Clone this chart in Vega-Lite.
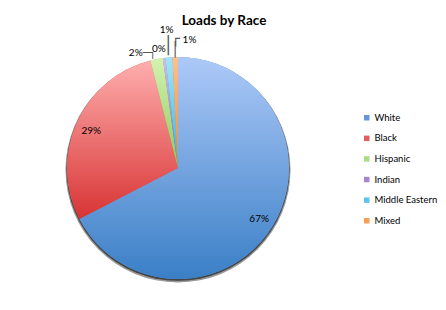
{
  "$schema": "https://vega.github.io/schema/vega-lite/v6.json",
  "width": 446,
  "height": 310,
  "padding": 0,
  "autosize": "none",
  "background": "white",
  "config": {"view": {"stroke": null}, "font": "Lato"},
  "title": {"text": "Loads by Race", "font": "Lato", "fontSize": 13.5, "fontWeight": "bold", "color": "#000", "anchor": "middle", "offset": 0, "dy": 27, "dx": 1},
  "data": {"values": [
    {"race": "White", "share": 0.674},
    {"race": "Black", "share": 0.286},
    {"race": "Hispanic", "share": 0.018},
    {"race": "Indian", "share": 0.004},
    {"race": "Middle Eastern", "share": 0.010},
    {"race": "Mixed", "share": 0.008}
  ]},
  "transform": [{"window": [{"op": "row_number", "as": "idx"}]}],
  "layer": [
    {
      "mark": {"type": "arc", "x": 178, "y": 170, "outerRadius": 112.5, "fill": "#000", "opacity": 0.08},
      "encoding": {}
    },
    {
      "mark": {"type": "arc", "x": 178, "y": 169.3, "outerRadius": 111.5, "fill": "#000", "opacity": 0.12},
      "encoding": {}
    },
    {
      "mark": {"type": "arc", "x": 178, "y": 168, "outerRadius": 111},
      "encoding": {
        "theta": {"field": "share", "type": "quantitative", "stack": true},
        "order": {"field": "idx", "type": "quantitative"},
        "color": {
          "field": "race", "type": "nominal",
          "sort": ["White", "Black", "Hispanic", "Indian", "Middle Eastern", "Mixed"],
          "scale": {
            "domain": ["White", "Black", "Hispanic", "Indian", "Middle Eastern", "Mixed"],
            "range": ["#6696d8", "#e45e5e", "#acdc80", "#a386cc", "#5cc5e9", "#f89e52"]
          },
          "legend": {
            "title": null, "orient": "none", "legendX": 362, "legendY": 113,
            "symbolType": "square", "symbolSize": 30, "symbolStrokeWidth": 0,
            "labelFont": "Lato", "labelFontSize": 9.5, "labelColor": "#000",
            "rowPadding": 9.6, "labelOffset": 3
          }
        }
      }
    },
    {
      "mark": {"type": "arc", "x": 178, "y": 168, "outerRadius": 111, "fill": {"gradient": "linear", "x1": 0, "y1": 0, "x2": 0, "y2": 1, "stops": [{"offset": 0, "color": "#adc9f8"}, {"offset": 1, "color": "#3a7fc6"}]}},
      "encoding": {
        "theta": {"field": "share", "type": "quantitative", "stack": true},
        "order": {"field": "idx", "type": "quantitative"},
        "detail": {"field": "race", "type": "nominal"},
        "opacity": {"condition": {"test": "datum.race === 'White'", "value": 1}, "value": 0}
      }
    },
    {
      "mark": {"type": "arc", "x": 178, "y": 168, "outerRadius": 111, "fill": {"gradient": "linear", "x1": 0, "y1": 0, "x2": 0, "y2": 1, "stops": [{"offset": 0, "color": "#ffaeae"}, {"offset": 1, "color": "#d83434"}]}},
      "encoding": {
        "theta": {"field": "share", "type": "quantitative", "stack": true},
        "order": {"field": "idx", "type": "quantitative"},
        "detail": {"field": "race", "type": "nominal"},
        "opacity": {"condition": {"test": "datum.race === 'Black'", "value": 1}, "value": 0}
      }
    },
    {
      "mark": {"type": "arc", "x": 178, "y": 168, "outerRadius": 111, "fill": {"gradient": "linear", "x1": 0, "y1": 0, "x2": 0, "y2": 1, "stops": [{"offset": 0, "color": "#d3f3b1"}, {"offset": 1, "color": "#8cc957"}]}},
      "encoding": {
        "theta": {"field": "share", "type": "quantitative", "stack": true},
        "order": {"field": "idx", "type": "quantitative"},
        "detail": {"field": "race", "type": "nominal"},
        "opacity": {"condition": {"test": "datum.race === 'Hispanic'", "value": 1}, "value": 0}
      }
    },
    {
      "mark": {"type": "arc", "x": 178, "y": 168, "outerRadius": 111, "fill": {"gradient": "linear", "x1": 0, "y1": 0, "x2": 0, "y2": 1, "stops": [{"offset": 0, "color": "#cfc0e8"}, {"offset": 1, "color": "#8a66b8"}]}},
      "encoding": {
        "theta": {"field": "share", "type": "quantitative", "stack": true},
        "order": {"field": "idx", "type": "quantitative"},
        "detail": {"field": "race", "type": "nominal"},
        "opacity": {"condition": {"test": "datum.race === 'Indian'", "value": 1}, "value": 0}
      }
    },
    {
      "mark": {"type": "arc", "x": 178, "y": 168, "outerRadius": 111, "fill": {"gradient": "linear", "x1": 0, "y1": 0, "x2": 0, "y2": 1, "stops": [{"offset": 0, "color": "#a3e4f9"}, {"offset": 1, "color": "#36b3dc"}]}},
      "encoding": {
        "theta": {"field": "share", "type": "quantitative", "stack": true},
        "order": {"field": "idx", "type": "quantitative"},
        "detail": {"field": "race", "type": "nominal"},
        "opacity": {"condition": {"test": "datum.race === 'Middle Eastern'", "value": 1}, "value": 0}
      }
    },
    {
      "mark": {"type": "arc", "x": 178, "y": 168, "outerRadius": 111, "fill": {"gradient": "linear", "x1": 0, "y1": 0, "x2": 0, "y2": 1, "stops": [{"offset": 0, "color": "#fdc08c"}, {"offset": 1, "color": "#f38a2c"}]}},
      "encoding": {
        "theta": {"field": "share", "type": "quantitative", "stack": true},
        "order": {"field": "idx", "type": "quantitative"},
        "detail": {"field": "race", "type": "nominal"},
        "opacity": {"condition": {"test": "datum.race === 'Mixed'", "value": 1}, "value": 0}
      }
    },
    {
      "mark": {"type": "text", "x": 178, "y": 168, "radius": 95, "dy": 2, "font": "Lato", "fontSize": 10, "color": "#000"},
      "encoding": {
        "theta": {"field": "share", "type": "quantitative", "stack": true},
        "order": {"field": "idx", "type": "quantitative"},
        "detail": {"field": "race", "type": "nominal"},
        "text": {"condition": {"test": "datum.share > 0.1", "field": "share", "format": ".0%"}, "value": ""}
      }
    },
    {
      "mark": {"type": "text", "x": 178, "y": 168, "radius": 120, "dx": -19, "dy": 3, "font": "Lato", "fontSize": 10, "color": "#000"},
      "encoding": {
        "theta": {"field": "share", "type": "quantitative", "stack": true},
        "order": {"field": "idx", "type": "quantitative"},
        "detail": {"field": "race", "type": "nominal"},
        "text": {"condition": {"test": "datum.race === 'Hispanic'", "field": "share", "format": ".0%"}, "value": ""}
      }
    },
    {
      "mark": {"type": "text", "x": 178, "y": 168, "radius": 120, "dx": -4, "dy": 0, "font": "Lato", "fontSize": 10, "color": "#000"},
      "encoding": {
        "theta": {"field": "share", "type": "quantitative", "stack": true},
        "order": {"field": "idx", "type": "quantitative"},
        "detail": {"field": "race", "type": "nominal"},
        "text": {"condition": {"test": "datum.race === 'Indian'", "field": "share", "format": ".0%"}, "value": ""}
      }
    },
    {
      "mark": {"type": "text", "x": 178, "y": 168, "radius": 120, "dx": -1.5, "dy": -18, "font": "Lato", "fontSize": 10, "color": "#000"},
      "encoding": {
        "theta": {"field": "share", "type": "quantitative", "stack": true},
        "order": {"field": "idx", "type": "quantitative"},
        "detail": {"field": "race", "type": "nominal"},
        "text": {"condition": {"test": "datum.race === 'Middle Eastern'", "field": "share", "format": ".0%"}, "value": ""}
      }
    },
    {
      "mark": {"type": "text", "x": 178, "y": 168, "radius": 120, "dx": 14.5, "dy": -8.5, "font": "Lato", "fontSize": 10, "color": "#000"},
      "encoding": {
        "theta": {"field": "share", "type": "quantitative", "stack": true},
        "order": {"field": "idx", "type": "quantitative"},
        "detail": {"field": "race", "type": "nominal"},
        "text": {"condition": {"test": "datum.race === 'Mixed'", "field": "share", "format": ".0%"}, "value": ""}
      }
    },
    {
      "mark": {"type": "text", "x": 178, "y": 168, "radius": 122, "font": "DejaVu Sans", "fontSize": 17, "color": "#555"},
      "encoding": {
        "theta": {"field": "share", "type": "quantitative", "stack": true},
        "order": {"field": "idx", "type": "quantitative"},
        "detail": {"field": "race", "type": "nominal"},
        "text": {"condition": {"test": "datum.race === 'Middle Eastern'", "value": "│"}, "value": ""}
      }
    },
    {
      "mark": {"type": "text", "x": 178, "y": 168, "radius": 118, "font": "DejaVu Sans", "fontSize": 14, "color": "#555"},
      "encoding": {
        "theta": {"field": "share", "type": "quantitative", "stack": true},
        "order": {"field": "idx", "type": "quantitative"},
        "detail": {"field": "race", "type": "nominal"},
        "text": {"condition": {"test": "datum.race === 'Mixed'", "value": "│"}, "value": ""}
      }
    },
    {
      "mark": {"type": "text", "x": 178, "y": 168, "radius": 120, "dx": 0.5, "dy": -9, "font": "DejaVu Sans", "fontSize": 14, "color": "#555"},
      "encoding": {
        "theta": {"field": "share", "type": "quantitative", "stack": true},
        "order": {"field": "idx", "type": "quantitative"},
        "detail": {"field": "race", "type": "nominal"},
        "text": {"condition": {"test": "datum.race === 'Mixed'", "value": "┌"}, "value": ""}
      }
    },
    {
      "mark": {"type": "text", "x": 178, "y": 168, "radius": 120, "dx": -5.5, "dy": 3, "font": "DejaVu Sans", "fontSize": 11, "color": "#555"},
      "encoding": {
        "theta": {"field": "share", "type": "quantitative", "stack": true},
        "order": {"field": "idx", "type": "quantitative"},
        "detail": {"field": "race", "type": "nominal"},
        "text": {"condition": {"test": "datum.race === 'Hispanic'", "value": "─┐"}, "value": ""}
      }
    }
  ]
}
